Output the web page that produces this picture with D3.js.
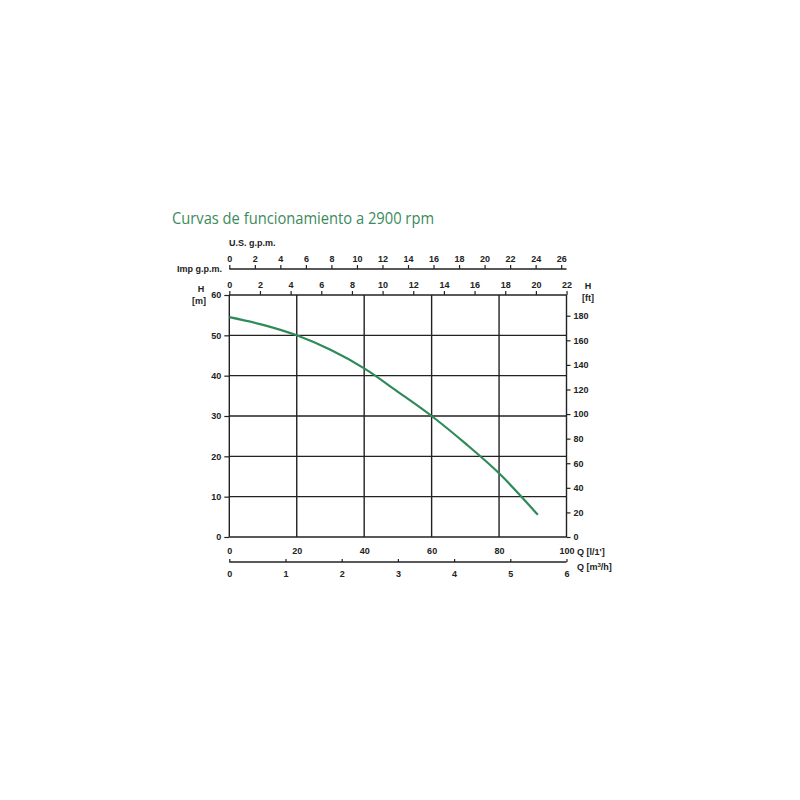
<!DOCTYPE html>
<html><head><meta charset="utf-8">
<script src="https://cdn.jsdelivr.net/npm/d3@7"></script>
<style>body{margin:0;background:#fff}</style>
</head><body>
<script>
// Data
const title = "Curvas de funcionamiento a 2900 rpm";
const flowLmin = [0, 10, 20, 30, 40, 50, 60, 70, 80, 90, 91.5];
const headM    = [54.5, 52.6, 50.0, 46.4, 41.8, 36.0, 30.0, 23.2, 15.8, 6.9, 5.5];
const qLminTicks = [0, 20, 40, 60, 80, 100];
const qM3hTicks  = [0, 1, 2, 3, 4, 5, 6];
const hMTicks    = [0, 10, 20, 30, 40, 50, 60];
const hFtTicks   = [0, 20, 40, 60, 80, 100, 120, 140, 160, 180];
const impTicks   = [0, 2, 4, 6, 8, 10, 12, 14, 16, 18, 20, 22];
const usTicks    = [0, 2, 4, 6, 8, 10, 12, 14, 16, 18, 20, 22, 24, 26];

(function () {
const W = 800, H = 800;
const pL = 229.3, pR = 566.5, pT = 295, pB = 537;
const svg = d3.select("body").append("svg").attr("width", W).attr("height", H)
  .style("font-family", "'Liberation Sans', Arial, sans-serif");

const x = d3.scaleLinear().domain([0, 100]).range([pL, pR]);
const y = d3.scaleLinear().domain([0, 60]).range([pB, pT]);
const xM3h = d3.scaleLinear().domain([0, 6]).range([pL, pR]);
const xImp = d3.scaleLinear().domain([0, 100 / 4.54609]).range([pL, pR]);
const xUS = d3.scaleLinear().domain([0, 100 / 3.785412]).range([pL, pR]);
const yFt = d3.scaleLinear().domain([0, 60 / 0.3048]).range([pB, pT]);

const ink = "#222";
const lblFont = "bold 9px 'Liberation Sans', Arial, sans-serif";

// Title
svg.append("text").attr("x", 172).attr("y", 224).text(title)
  .attr("fill", "#3c8a5c").style("font-family", "'Open Sans', 'Noto Sans', sans-serif")
  .style("font-size", "17px")
  .attr("textLength", 262).attr("lengthAdjust", "spacingAndGlyphs");

// Grid
const g = svg.append("g");
g.selectAll("line.h").data(hMTicks).join("line").attr("class", "h")
  .attr("x1", pL).attr("x2", pR).attr("y1", d => y(d)).attr("y2", d => y(d))
  .attr("stroke", ink).attr("stroke-width", 1.4);
g.selectAll("line.v").data(qLminTicks).join("line").attr("class", "v")
  .attr("x1", d => x(d)).attr("x2", d => x(d)).attr("y1", pT).attr("y2", pB)
  .attr("stroke", ink).attr("stroke-width", 1.4);

function styleAxis(sel) {
  sel.select(".domain").remove();
  sel.selectAll(".tick line").attr("stroke", ink).attr("stroke-width", 1.2);
  sel.selectAll(".tick text").style("font", lblFont).attr("fill", ink);
}
svg.append("g").attr("transform", `translate(${pL},0)`)
  .call(d3.axisLeft(y).tickValues(hMTicks).tickSize(5).tickPadding(3)).call(styleAxis);
svg.append("g").attr("transform", `translate(${pR},0)`)
  .call(d3.axisRight(yFt).tickValues(hFtTicks).tickSize(4).tickPadding(3)).call(styleAxis);
svg.append("g").attr("transform", `translate(0,${pT})`)
  .call(d3.axisTop(xImp).tickValues(impTicks).tickSize(4).tickPadding(3)).call(styleAxis);
const usY = 269;
svg.append("line").attr("x1", pL).attr("x2", pR).attr("y1", usY).attr("y2", usY)
  .attr("stroke", ink).attr("stroke-width", 1.4);
svg.append("g").attr("transform", `translate(0,${usY})`)
  .call(d3.axisTop(xUS).tickValues(usTicks).tickSize(4).tickPadding(3)).call(styleAxis);
svg.append("g").attr("transform", `translate(0,${pB})`)
  .call(d3.axisBottom(x).tickValues(qLminTicks).tickSize(0).tickPadding(11)).call(styleAxis);
const m3Y = 562;
svg.append("line").attr("x1", pL).attr("x2", pR).attr("y1", m3Y).attr("y2", m3Y)
  .attr("stroke", ink).attr("stroke-width", 1.4);
svg.append("g").attr("transform", `translate(0,${m3Y})`)
  .call(d3.axisTop(xM3h).tickValues(qM3hTicks).tickFormat(d3.format("d")).tickSize(3).tickPadding(0)).call(styleAxis)
  .selectAll(".tick text").attr("y", 15);

function lbl(t, xx, yy, anchor) {
  return svg.append("text").attr("x", xx).attr("y", yy).text(t)
    .style("font", lblFont).attr("fill", ink).attr("text-anchor", anchor || "start");
}
lbl("U.S. g.p.m.", 229, 246);
lbl("Imp g.p.m.", 222, 272, "end");
lbl("H", 201, 292, "middle");
lbl("[m]", 199, 304, "middle");
lbl("H", 588, 289, "middle");
lbl("[ft]", 588, 301, "middle");
lbl("Q [l/1']", 577, 555);
const qm = svg.append("text").attr("x", 577).attr("y", 570).style("font", lblFont).attr("fill", ink);
qm.append("tspan").text("Q [m");
qm.append("tspan").text("3").attr("dy", -3).style("font-size", "6px");
qm.append("tspan").text("/h]").attr("dy", 3);

const pts = flowLmin.map((q, i) => [q, headM[i]]);
svg.append("path").datum(pts)
  .attr("d", d3.line().x(d => x(d[0])).y(d => y(d[1])).curve(d3.curveCatmullRom))
  .attr("fill", "none").attr("stroke", "#2f8a5a").attr("stroke-width", 2.2);
})();
</script>
</body></html>
